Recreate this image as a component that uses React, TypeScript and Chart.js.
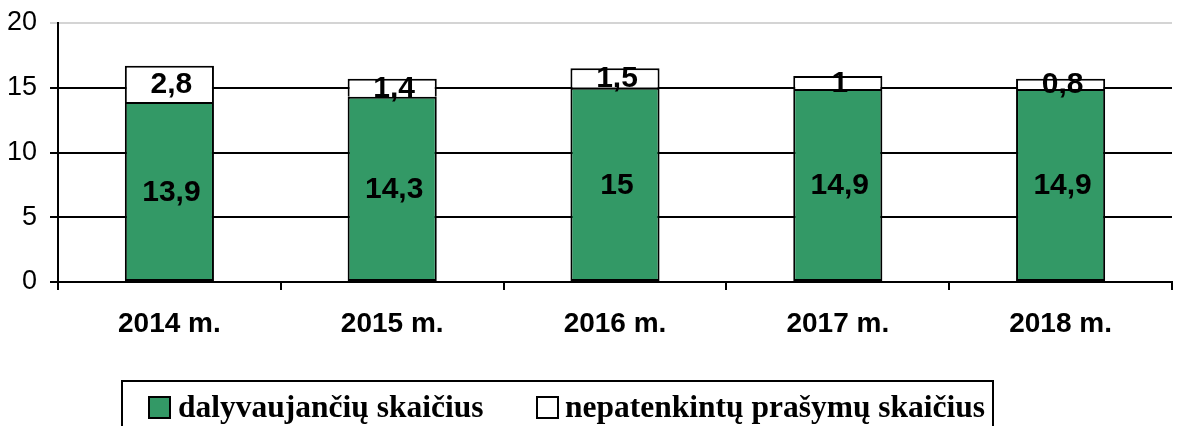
import React, { useEffect, useRef } from "react";
import { Chart, registerables } from "chart.js";

Chart.register(...registerables);

const categories = ["2014 m.", "2015 m.", "2016 m.", "2017 m.", "2018 m."];
const participants = [13.9, 14.3, 15, 14.9, 14.9];
const unmetRequests = [2.8, 1.4, 1.5, 1, 0.8];
const seriesNames = ["dalyvaujančių skaičius", "nepatenkintų prašymų skaičius"];
const yTicks = [0, 5, 10, 15, 20];

const GREEN = "#339966";

const fmt = (v: number) => String(v).replace(".", ",");

const labelsPlugin = {
  id: "valueLabels",
  afterDatasetsDraw(chart: any) {
    const ctx = chart.ctx;
    ctx.save();
    ctx.font = "bold 30px 'Liberation Sans', Arial, sans-serif";
    ctx.fillStyle = "#000";
    ctx.textAlign = "center";
    ctx.textBaseline = "middle";
    chart.data.datasets.forEach((ds: any, di: number) => {
      const meta = chart.getDatasetMeta(di);
      meta.data.forEach((bar: any, i: number) => {
        const cy = (bar.y + bar.base) / 2;
        ctx.fillText(fmt(ds.data[i]), bar.x + 2, cy + 1);
      });
    });
    ctx.restore();
  },
};

const legendPlugin = {
  id: "boxLegend",
  afterDraw(chart: any) {
    const ctx = chart.ctx;
    ctx.save();
    ctx.strokeStyle = "#000";
    ctx.lineWidth = 2;
    ctx.strokeRect(122, 381, 871, 80);
    ctx.font = "bold 31.5px 'Liberation Serif', 'Times New Roman', serif";
    ctx.textBaseline = "alphabetic";
    ctx.textAlign = "left";
    const items = [
      { sx: 149, tx: 178, color: GREEN, name: seriesNames[0] },
      { sx: 537, tx: 565, color: "#ffffff", name: seriesNames[1] },
    ];
    items.forEach((it) => {
      ctx.fillStyle = it.color;
      ctx.fillRect(it.sx, 397, 21, 21);
      ctx.lineWidth = 2;
      ctx.strokeStyle = "#000";
      ctx.strokeRect(it.sx, 397, 21, 21);
      ctx.fillStyle = "#000";
      ctx.fillText(it.name, it.tx, 417);
    });
    ctx.restore();
  },
};

export default function App() {
  const ref = useRef<HTMLCanvasElement>(null);
  useEffect(() => {
    const chart = new Chart(ref.current!, {
      type: "bar",
      data: {
        labels: categories,
        datasets: [
          {
            label: seriesNames[0],
            data: participants,
            backgroundColor: GREEN,
            borderColor: "#000",
            borderWidth: 2,
            borderSkipped: false,
            barPercentage: 0.4,
            categoryPercentage: 1,
          },
          {
            label: seriesNames[1],
            data: unmetRequests,
            backgroundColor: "#ffffff",
            borderColor: "#000",
            borderWidth: 2,
            borderSkipped: "bottom",
            barPercentage: 0.4,
            categoryPercentage: 1,
          },
        ],
      },
      options: {
        responsive: false,
        animation: false,
        devicePixelRatio: 1,
        layout: { padding: { left: 0, right: 7, top: 23, bottom: 0 } },
        plugins: { legend: { display: false }, tooltip: { enabled: false } },
        scales: {
          x: {
            stacked: true,
            grid: {
              offset: true,
              drawOnChartArea: false,
              drawTicks: true,
              tickLength: 8,
              color: "#000",
              lineWidth: 2,
            },
            border: { color: "#000", width: 2 },
            ticks: {
              color: "#000",
              padding: 17,
              font: { family: "'Liberation Sans', Arial, sans-serif", size: 28, weight: "bold" },
            },
            afterFit(scale: any) {
              scale.height = 144;
              scale.paddingLeft = 0;
              scale.paddingRight = 0;
            },
          },
          y: {
            stacked: true,
            min: 0,
            max: 20,
            afterBuildTicks(scale: any) {
              scale.ticks = yTicks.map((v) => ({ value: v }));
            },
            grid: {
              color: (c: any) => (c.tick && c.tick.value === 20 ? "#d4d4d4" : "#000"),
              lineWidth: 2,
              drawTicks: true,
              tickLength: 8,
            },
            border: { color: "#000", width: 2 },
            ticks: {
              color: "#000",
              padding: 13,
              font: { family: "'Liberation Sans', Arial, sans-serif", size: 27 },
            },
            afterFit(scale: any) {
              scale.width = 58;
              scale.paddingTop = 0;
              scale.paddingBottom = 0;
            },
          },
        },
      },
      plugins: [labelsPlugin, legendPlugin],
    });
    return () => chart.destroy();
  }, []);
  return (
    <div style={{ position: "absolute", left: 0, top: 0, width: 1179, height: 426, background: "#fff" }}>
      <canvas ref={ref} width={1179} height={426} style={{ width: 1179, height: 426 }} />
    </div>
  );
}
